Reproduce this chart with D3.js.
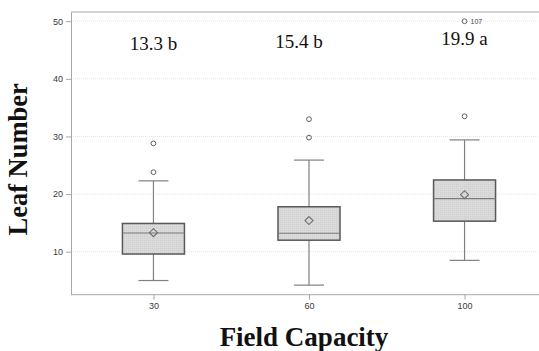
<!DOCTYPE html>
<html>
<head>
<meta charset="utf-8">
<script src="https://cdn.jsdelivr.net/npm/d3@7"></script>
<style>
  body { margin: 0; background: #fff; }
  svg { display: block; }
</style>
</head>
<body>
<div id="chart"></div>
<script>
// chart values
const groups = ['30', '60', '100'];
const q1 = [9.6, 12.0, 15.3];
const medians = [13.25, 13.2, 19.2];
const q3 = [14.9, 17.8, 22.45];
const whiskerLow = [5.0, 4.2, 8.5];
const whiskerHigh = [22.3, 25.9, 29.4];
const means = [13.3, 15.4, 19.9];
const outliers = [[28.8, 23.8], [33.0, 29.8], [33.5, 50]];
const outlierLabels = [{group: '100', value: 50, text: '107'}];
const letters = ['13.3 b', '15.4 b', '19.9 a'];
const letterY = [45.0, 45.4, 45.9];
const letterShift = [0, -10, 0];
const yTicks = [10, 20, 30, 40, 50];

const width = 539, height = 351;
const margin = {left: 71, top: 12, bottom: 56.3};
const plotRight = 547; // plot frame runs past the right edge of the picture

const svg = d3.select('#chart').append('svg')
  .attr('width', width)
  .attr('height', height);

const x = d3.scalePoint()
  .domain(groups)
  .range([margin.left, plotRight])
  .padding(0.53);

const y = d3.scaleLinear()
  .domain([2.54, 51.6])
  .range([height - margin.bottom, margin.top]);

// gridlines
svg.append('g').attr('class', 'grid')
  .selectAll('line')
  .data(yTicks)
  .enter().append('line')
  .attr('x1', margin.left)
  .attr('x2', plotRight)
  .attr('y1', d => y(d))
  .attr('y2', d => y(d))
  .style('stroke', '#e4e4e4')
  .style('stroke-width', '1px')
  .style('stroke-dasharray', '1,1');

// top frame line
svg.append('line')
  .attr('x1', margin.left).attr('x2', plotRight)
  .attr('y1', y.range()[1]).attr('y2', y.range()[1])
  .style('stroke', '#a8a8a8');

// y axis
const yAxis = svg.append('g')
  .attr('transform', `translate(${margin.left},0)`)
  .call(d3.axisLeft(y).tickValues(yTicks).tickSize(5).tickPadding(3).tickSizeOuter(0));

// x axis
const xAxis = svg.append('g')
  .attr('transform', `translate(0,${y.range()[0]})`)
  .call(d3.axisBottom(x).tickSize(5).tickPadding(3).tickSizeOuter(0));

[yAxis, xAxis].forEach(ax => {
  ax.select('.domain').style('stroke', '#a8a8a8');
  ax.selectAll('.tick line').style('stroke', '#a8a8a8');
  ax.selectAll('.tick text')
    .style('font-family', 'Arial, "Liberation Sans", sans-serif')
    .style('font-size', '9px')
    .style('fill', '#3a3a3a');
});
xAxis.selectAll('.domain').attr('d', `M${margin.left},0H${plotRight}`);

// box fill texture
const pat = svg.append('defs').append('pattern')
  .attr('id', 'stipple')
  .attr('width', 2).attr('height', 2)
  .attr('patternUnits', 'userSpaceOnUse');
pat.append('rect').attr('width', 2).attr('height', 2).attr('fill', '#dadada');
pat.append('rect').attr('width', 1).attr('height', 1).attr('fill', '#cfcfcf');

const boxW = 62, capW = 30;
const idx = groups.map((g, i) => i);

// whiskers
const whiskers = svg.append('g').attr('class', 'whiskers');
whiskers.selectAll('line.stem')
  .data(idx)
  .enter().append('line')
  .attr('class', 'stem')
  .attr('x1', i => x(groups[i])).attr('x2', i => x(groups[i]))
  .attr('y1', i => y(whiskerLow[i])).attr('y2', i => y(whiskerHigh[i]))
  .style('stroke', '#808080').style('stroke-width', '1.2px');
['low', 'high'].forEach(k => {
  whiskers.selectAll('line.cap-' + k)
    .data(idx)
    .enter().append('line')
    .attr('class', 'cap-' + k)
    .attr('x1', i => x(groups[i]) - capW / 2)
    .attr('x2', i => x(groups[i]) + capW / 2)
    .attr('y1', i => y(k === 'low' ? whiskerLow[i] : whiskerHigh[i]))
    .attr('y2', i => y(k === 'low' ? whiskerLow[i] : whiskerHigh[i]))
    .style('stroke', '#808080').style('stroke-width', '1.2px');
});

// boxes
svg.append('g').attr('class', 'boxes')
  .selectAll('rect')
  .data(idx)
  .enter().append('rect')
  .attr('x', i => x(groups[i]) - boxW / 2)
  .attr('width', boxW)
  .attr('y', i => y(q3[i]))
  .attr('height', i => y(q1[i]) - y(q3[i]))
  .attr('fill', 'url(#stipple)')
  .style('stroke', '#585858')
  .style('stroke-width', '1.5px');

// medians
svg.append('g').attr('class', 'medians')
  .selectAll('line')
  .data(idx)
  .enter().append('line')
  .attr('x1', i => x(groups[i]) - boxW / 2)
  .attr('x2', i => x(groups[i]) + boxW / 2)
  .attr('y1', i => y(medians[i]))
  .attr('y2', i => y(medians[i]))
  .style('stroke', '#7a7a7a')
  .style('stroke-width', '1.2px');

// means as diamonds
svg.append('g').attr('class', 'means')
  .selectAll('path')
  .data(idx)
  .enter().append('path')
  .attr('transform', i => `translate(${x(groups[i])},${y(means[i])})`)
  .attr('d', 'M0,-4L4,0L0,4L-4,0Z')
  .style('fill', 'none')
  .style('stroke', '#6e6e6e')
  .style('stroke-width', '1.1px');

// outliers
const outPts = [];
outliers.forEach((vals, i) => vals.forEach(v => outPts.push({group: groups[i], value: v})));
svg.append('g').attr('class', 'outliers')
  .selectAll('circle')
  .data(outPts)
  .enter().append('circle')
  .attr('cx', d => x(d.group))
  .attr('cy', d => y(d.value))
  .attr('r', 2.4)
  .style('fill', 'none')
  .style('stroke', '#606060')
  .style('stroke-width', '1px');

svg.append('g').attr('class', 'outlier-labels')
  .selectAll('text')
  .data(outlierLabels)
  .enter().append('text')
  .attr('x', d => x(d.group) + 6)
  .attr('y', d => y(d.value))
  .attr('dominant-baseline', 'central')
  .style('font-family', 'Arial, "Liberation Sans", sans-serif')
  .style('font-size', '7px')
  .style('fill', '#444')
  .text(d => d.text);

// mean letters
svg.append('g').attr('class', 'letters')
  .selectAll('text')
  .data(idx)
  .enter().append('text')
  .attr('x', i => x(groups[i]) + letterShift[i])
  .attr('y', i => y(letterY[i]))
  .attr('text-anchor', 'middle')
  .style('font-family', '"Times New Roman", "Liberation Serif", serif')
  .style('font-size', '19px')
  .style('fill', '#111')
  .text(i => letters[i]);

// axis titles
svg.append('text')
  .attr('transform', `translate(27,${(y.range()[0] + y.range()[1]) / 2 + 6}) rotate(-90)`)
  .attr('text-anchor', 'middle')
  .style('font-family', '"Times New Roman", "Liberation Serif", serif')
  .style('font-weight', 'bold')
  .style('font-size', '26.5px')
  .style('fill', '#111')
  .text('Leaf Number');

svg.append('text')
  .attr('x', 304)
  .attr('y', 346)
  .attr('text-anchor', 'middle')
  .style('font-family', '"Times New Roman", "Liberation Serif", serif')
  .style('font-weight', 'bold')
  .style('font-size', '27px')
  .style('fill', '#111')
  .text('Field Capacity');
</script>
</body>
</html>
